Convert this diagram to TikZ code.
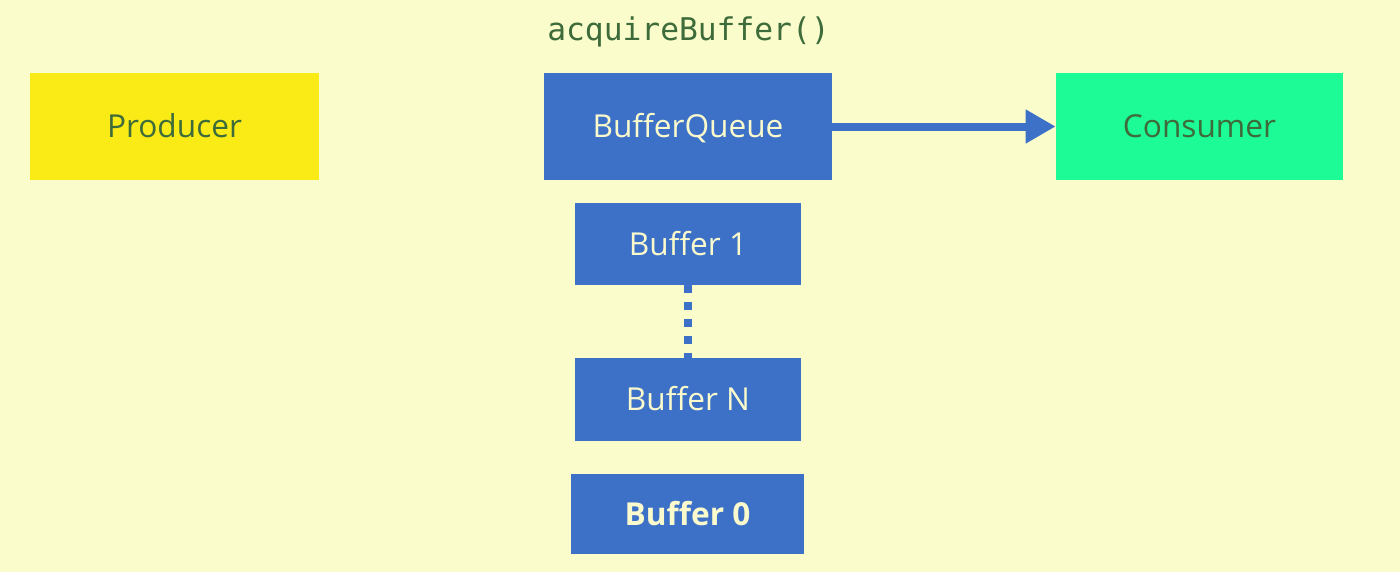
\documentclass[tikz,border=0pt]{standalone}
\usepackage{fontspec}
\setmainfont{Open Sans}
\newfontfamily\monofont{DejaVu Sans Mono}
\usetikzlibrary{arrows.meta}
\definecolor{bgc}{HTML}{FBFCCB}
\definecolor{bluec}{HTML}{3C71C7}
\definecolor{yelc}{HTML}{FAEB16}
\definecolor{grnc}{HTML}{1DFB97}
\definecolor{txtg}{HTML}{3D6B3A}
\definecolor{txty}{HTML}{FAFACD}
\tikzset{
  boxtext/.style={font=\fontsize{18}{20}\selectfont, text height=12.85pt, text depth=0pt, inner sep=0pt},
  bluebox/.style={boxtext, fill=bluec, text=txty},
  conn/.style={draw=bluec, line width=8*0.569pt},
}
\begin{document}
\begin{tikzpicture}[x=0.02cm,y=-0.02cm]
\fill[bgc] (0,0) rectangle (1400,572);
\useasboundingbox (0,0) rectangle (1400,572);
\node[anchor=base, text=txtg, font=\monofont\fontsize{17.8}{20}\selectfont] (title) at (688.5,40) {acquireBuffer()};
\node[boxtext, fill=yelc, text=txtg, minimum width=289*0.02cm, minimum height=107*0.02cm] (prod) at (174.5,126.5) {Producer};
\node[bluebox, minimum width=288*0.02cm, minimum height=107*0.02cm] (bq) at (688,126.5) {BufferQueue};
\node[boxtext, fill=grnc, text=txtg, minimum width=287*0.02cm, minimum height=107*0.02cm] (cons) at (1199.5,126.5) {Consumer};
\node[bluebox, minimum width=226*0.02cm, minimum height=82*0.02cm] (b1) at (688,244) {Buffer 1};
\node[bluebox, minimum width=226*0.02cm, minimum height=83*0.02cm] (bn) at (688,399.5) {Buffer N};
\node[bluebox, font=\bfseries\fontsize{18}{20}\selectfont, minimum width=233*0.02cm, minimum height=80*0.02cm] (b0) at (687.5,514) {Buffer 0};
\draw[conn, -{Triangle[length=30*0.02cm, width=32*0.02cm]}] (bq.east) -- (cons.west);
\draw[conn, dash pattern=on 8*0.02cm off 9*0.02cm] (b1.south) -- (bn.north);
\end{tikzpicture}
\end{document}
